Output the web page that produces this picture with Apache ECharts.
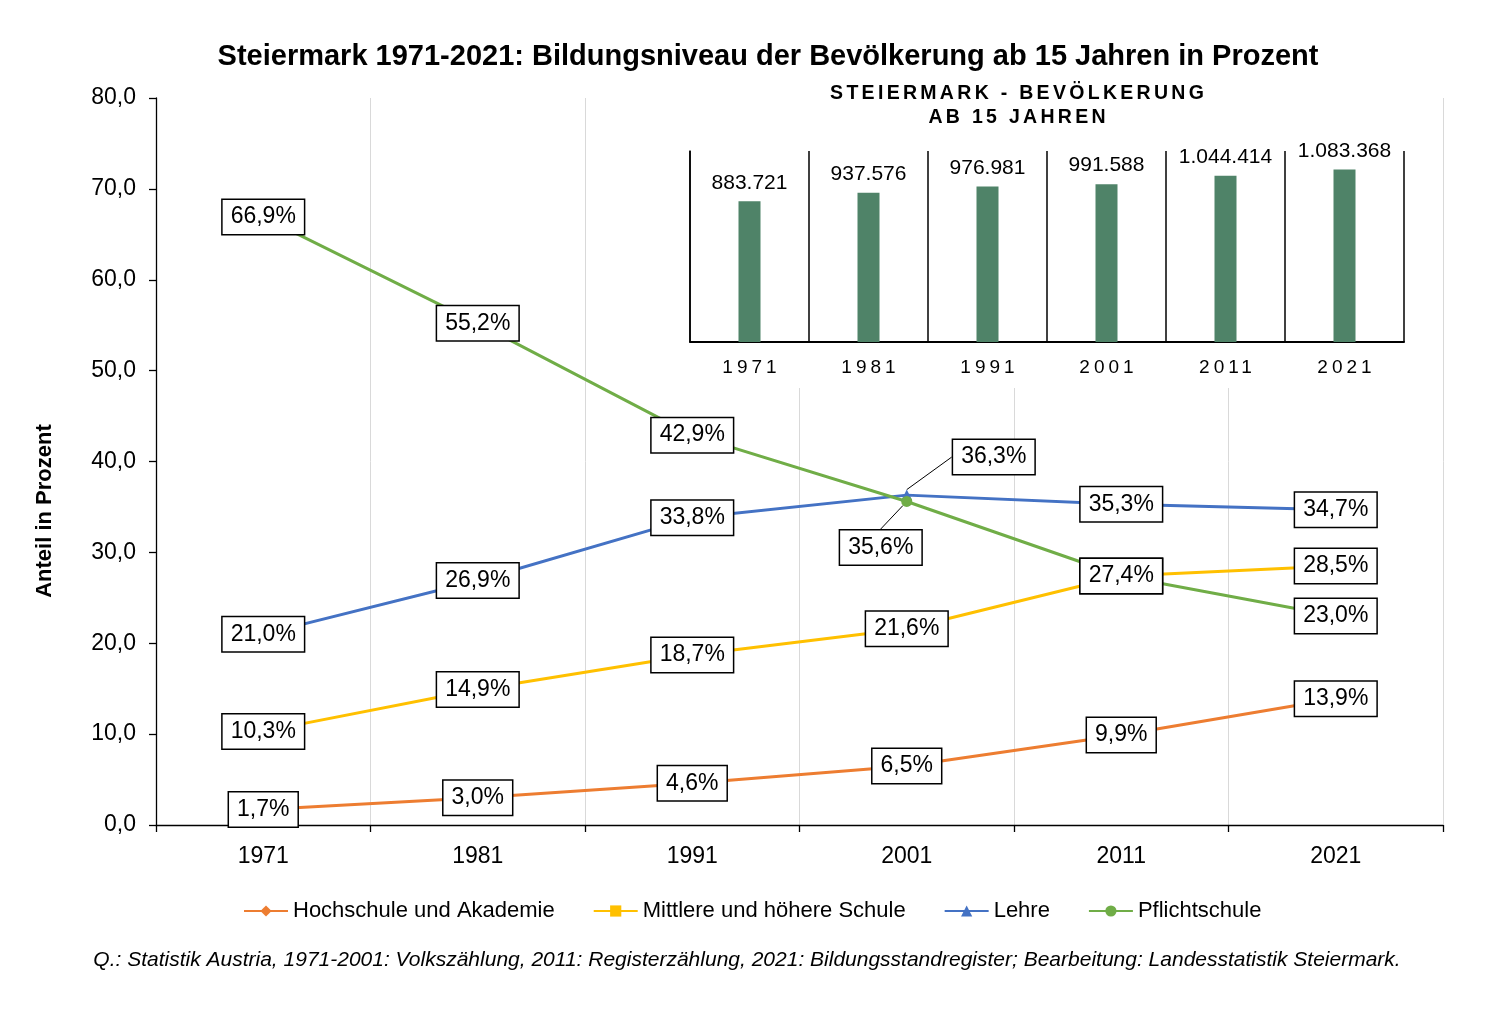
<!DOCTYPE html>
<html>
<head>
<meta charset="utf-8">
<script src="https://cdn.jsdelivr.net/npm/echarts@6/dist/echarts.min.js"></script>
<style>
html,body{margin:0;padding:0;background:#fff;}
#c{width:1501px;height:1015px;}
</style>
</head>
<body>
<div id="c"></div>
<script>
const years = ['1971', '1981', '1991', '2001', '2011', '2021'];
const hochschule = [1.7, 3.0, 4.6, 6.5, 9.9, 13.9];
const mittlere = [10.3, 14.9, 18.7, 21.6, 27.4, 28.5];
const lehre = [21.0, 26.9, 33.8, 36.3, 35.3, 34.7];
const pflicht = [66.9, 55.2, 42.9, 35.6, 27.4, 23.0];
const bevoelkerung = [883721, 937576, 976981, 991588, 1044414, 1083368];
const seriesNames = ['Hochschule und Akademie', 'Mittlere und höhere Schule', 'Lehre', 'Pflichtschule'];

const FONT = '"Liberation Sans", Arial, sans-serif';
// font family used only for the letter-spaced texts of the inset chart
const FONT_SPACED = '"Liberation Sans", "DejaVu Sans", sans-serif';

// letter spacing for the inset title and inset axis labels
(function () {
  const proto = CanvasRenderingContext2D.prototype;
  const orig = proto.fillText;
  proto.fillText = function (t, x, y, m) {
    const f = this.font || '';
    if (f.indexOf('DejaVu') >= 0 && 'letterSpacing' in this) {
      const sp = /bold|700/.test(f) ? 3.3 : 4;
      const prev = this.letterSpacing;
      this.letterSpacing = sp + 'px';
      let dx = 0;
      if (this.textAlign === 'center') dx = sp / 2;
      const r = m === undefined ? orig.call(this, t, x + dx, y) : orig.call(this, t, x + dx, y, m);
      this.letterSpacing = prev;
      return r;
    }
    return m === undefined ? orig.call(this, t, x, y) : orig.call(this, t, x, y, m);
  };
})();

const chart = echarts.init(document.getElementById('c'));

const pct = v => v.toFixed(1).replace('.', ',') + '%';
const thousands = v => String(v).replace(/\B(?=(\d{3})+(?!\d))/g, '.');

const labelStyle = {
  show: true,
  position: 'inside',
  formatter: p => pct(p.value),
  color: '#000',
  fontFamily: FONT,
  fontSize: 23,
  backgroundColor: '#fff',
  borderColor: '#000',
  borderWidth: 1.5,
  padding: [6, 8, 5, 8]
};

function lineSeries(name, data, color, symbol, markIdx) {
  return {
    name: name,
    type: 'line',
    data: data,
    xAxisIndex: 0,
    yAxisIndex: 0,
    symbol: symbol,
    symbolSize: (v, p) => (markIdx !== null && p.dataIndex === markIdx ? 11 : 0),
    showSymbol: true,
    lineStyle: { color: color, width: 3 },
    itemStyle: { color: color },
    label: labelStyle,
    labelLine: { show: false, lineStyle: { color: '#000', width: 1 } },
    emphasis: { disabled: true },
    z: 3
  };
}

const sLehre = lineSeries(seriesNames[2], lehre.map((v, i) => i === 3 ? { value: v, labelLine: { show: true } } : v), '#4472C4', 'triangle', 3);
const sPflicht = lineSeries(seriesNames[3], pflicht.map((v, i) => i === 3 ? { value: v, labelLine: { show: true } } : v), '#70AD47', 'circle', 3);

const option = {
  backgroundColor: '#fff',
  animation: false,
  textStyle: { fontFamily: FONT },
  title: [
    {
      text: 'Steiermark 1971-2021: Bildungsniveau der Bevölkerung ab 15 Jahren in Prozent',
      left: 763,
      textAlign: 'center',
      top: 37,
      textStyle: { fontFamily: FONT, fontSize: 29, fontWeight: 'bold', color: '#000' }
    },
    {
      text: 'STEIERMARK - BEVÖLKERUNG\nAB 15 JAHREN',
      left: 1012,
      textAlign: 'center',
      top: 77,
      textStyle: { fontFamily: FONT_SPACED, fontSize: 19.5, fontWeight: 'bold', color: '#000', lineHeight: 24 }
    }
  ],
  legend: {
    data: seriesNames,
    top: 900,
    left: 243,
    padding: 0,
    itemWidth: 44,
    itemHeight: 14,
    itemGap: 38,
    textStyle: { fontFamily: FONT, fontSize: 22, color: '#000' }
  },
  grid: [
    { left: 156, right: 58, top: 98, bottom: 190, containLabel: false },
    { left: 690, right: 97, top: 151, bottom: 673, containLabel: false }
  ],
  xAxis: [
    {
      type: 'category',
      gridIndex: 0,
      data: years,
      boundaryGap: true,
      axisLine: { lineStyle: { color: '#000', width: 1.3 } },
      axisTick: { show: true, length: 7, lineStyle: { color: '#000', width: 1.3 } },
      axisLabel: { color: '#000', fontFamily: FONT, fontSize: 23, margin: 20 },
      splitLine: { show: true, lineStyle: { color: '#D9D9D9', width: 1 } },
      z: 0
    },
    {
      type: 'category',
      gridIndex: 1,
      data: years,
      boundaryGap: true,
      axisLine: { lineStyle: { color: '#000', width: 2 } },
      axisTick: { show: false },
      axisLabel: { color: '#000', fontFamily: FONT_SPACED, fontSize: 19, margin: 16 },
      splitLine: { show: true, lineStyle: { color: '#000', width: 1.5 } },
      z: 6
    }
  ],
  yAxis: [
    {
      type: 'value',
      gridIndex: 0,
      min: 0,
      max: 80,
      interval: 10,
      axisLine: { show: true, lineStyle: { color: '#000', width: 1.3 } },
      axisTick: { show: true, length: 7, lineStyle: { color: '#000', width: 1.3 } },
      axisLabel: { color: '#000', fontFamily: FONT, fontSize: 23, margin: 20, formatter: v => v.toFixed(1).replace('.', ',') },
      splitLine: { show: false },
      z: 0
    },
    {
      type: 'value',
      gridIndex: 1,
      min: 0,
      max: 1200000,
      axisLine: { show: true, lineStyle: { color: '#000', width: 1.5 } },
      axisTick: { show: false },
      axisLabel: { show: false },
      splitLine: { show: false },
      z: 6
    }
  ],
  graphic: [
    {
      type: 'rect',
      z: 1,
      shape: { x: 640, y: 60, width: 798, height: 328 },
      style: { fill: '#fff' },
      silent: true
    },
    {
      type: 'text',
      x: 45,
      y: 511,
      rotation: Math.PI / 2,
      z: 5,
      style: {
        text: 'Anteil in Prozent',
        font: 'bold 22px ' + FONT,
        fill: '#000',
        textAlign: 'center',
        textVerticalAlign: 'middle'
      }
    },
    {
      type: 'text',
      x: 747,
      y: 960,
      z: 5,
      style: {
        text: 'Q.: Statistik Austria, 1971-2001: Volkszählung, 2011: Registerzählung, 2021: Bildungsstandregister; Bearbeitung: Landesstatistik Steiermark.',
        font: 'italic 21px ' + FONT,
        fill: '#000',
        textAlign: 'center',
        textVerticalAlign: 'middle'
      }
    }
  ],
  series: [
    lineSeries(seriesNames[0], hochschule, '#ED7D31', 'diamond', null),
    lineSeries(seriesNames[1], mittlere, '#FFC000', 'rect', null),
    sLehre,
    sPflicht,
    {
      name: 'Bevölkerung',
      type: 'bar',
      xAxisIndex: 1,
      yAxisIndex: 1,
      data: bevoelkerung,
      barWidth: 22,
      itemStyle: { color: '#4F8368' },
      label: {
        show: true,
        position: 'top',
        distance: 8,
        formatter: p => thousands(p.value),
        color: '#000',
        fontFamily: FONT,
        fontSize: 21
      },
      emphasis: { disabled: true },
      z: 6
    }
  ],
  labelLayout: function (p) {
    if (p.seriesIndex === 2 && p.dataIndex === 3) return { dx: 87, dy: -38 };
    if (p.seriesIndex === 3 && p.dataIndex === 3) return { dx: -26, dy: 46 };
    return {};
  }
};

chart.setOption(option);
</script>
</body>
</html>
